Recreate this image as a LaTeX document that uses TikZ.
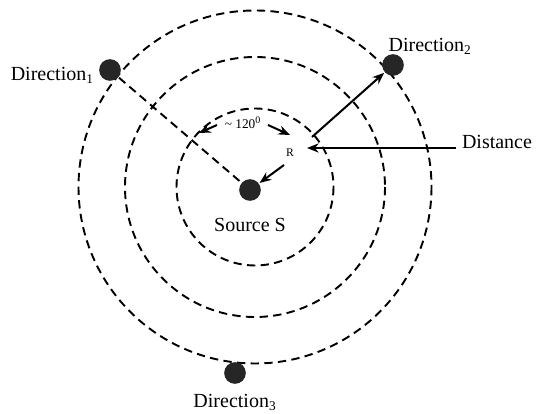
\documentclass[tikz,border=0pt]{standalone}
\usepackage{fontspec}
\setmainfont{Liberation Serif}
\usepackage{tikz}
\usetikzlibrary{arrows, arrows.meta, positioning}

\tikzset{
  dot/.style={circle, fill=black!85, inner sep=0pt, minimum size=13pt},
  ring/.style={dashed, dash pattern=on 5pt off 3.2pt, line width=1.15pt},
  lbl/.style={font=\fontsize{12}{14}\selectfont, inner sep=1pt},
  tiny/.style={font=\fontsize{7}{8}\selectfont, inner sep=1pt}
}

\begin{document}
\begin{tikzpicture}[>={Stealth[length=7pt, width=5.5pt]}, x=0.6pt, y=-0.6pt, line width=1.2pt]
    \useasboundingbox (0,0) rectangle (537,414);

    % rings round the source
    \coordinate (c) at (255,187);
    \draw[ring] (c) circle [radius=78.5];
    \draw[ring] (c) circle [radius=130];
    \draw[ring] (c) circle [radius=176.5];

    \node[dot] (src) at (250,190) {};
    \node[lbl] (srclab) [below=8pt of src] {Source S};

    \node[dot] (d1) at (110,70) {};
    \node[dot] (d2) at (393,65) {};
    \node[dot] (d3) at (235,373) {};
    \node[lbl] (d1lab) [left=1pt of d1, yshift=-3pt] {Direction\textsubscript{1}};
    \node[lbl, anchor=south west] (d2lab) at (386,57) {Direction\textsubscript{2}};
    \node[lbl] (d3lab) [below=4pt of d3] {Direction\textsubscript{3}};

    \draw[ring] (d1) -- (src);

    % radius and distance
    \coordinate (rs) at (312,137);
    \draw[->] (rs) -- (d2);
    \node[tiny] (rlab) at (290,153) {R};
    \coordinate (rt) at (284,165);
    \draw[->] (rt) -- (src);
    \node[lbl] (dist) at (497,142) {Distance};
    \coordinate (dtip) at (307,148);
    \draw[->] (dist.west |- dtip) ++(-3,0) -- (dtip);

    % angle between directions
    \node[tiny, font=\fontsize{8}{9}\selectfont] (ang) at (243,123) {\textasciitilde{} 120\textsuperscript{0}};
    \coordinate (a1) at (217,125);
    \coordinate (a1e) at (199,133);
    \coordinate (a2) at (268,125);
    \coordinate (a2e) at (290,135);
    \draw[->] (a1) -- (a1e);
    \draw[->] (a2) -- (a2e);
\end{tikzpicture}
\end{document}
